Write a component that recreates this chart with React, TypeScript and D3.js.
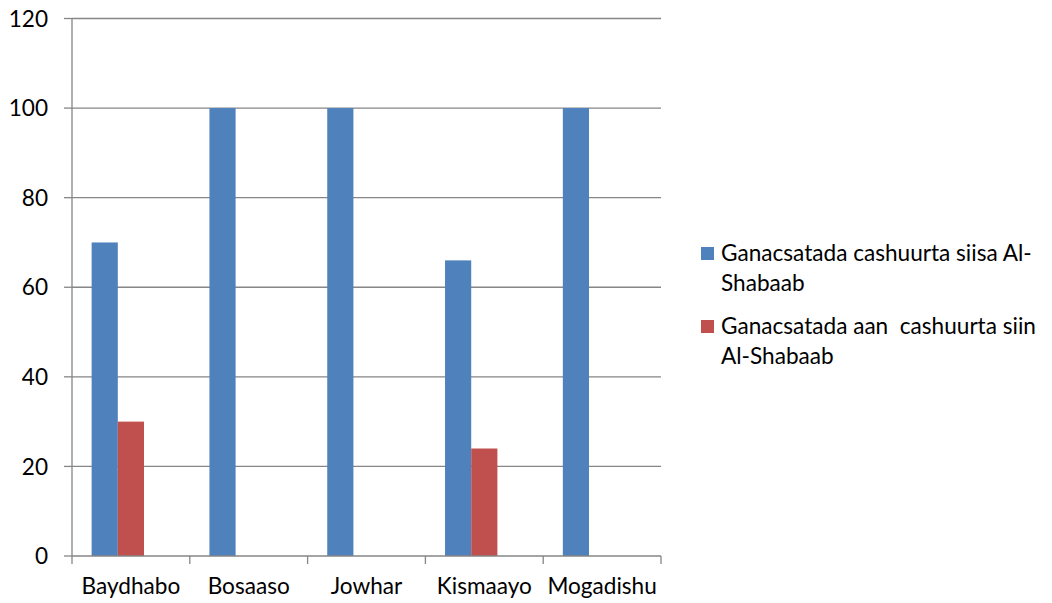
import React, { useEffect, useRef } from "react";
import * as d3 from "d3";

const categories = ["Baydhabo", "Bosaaso", "Jowhar", "Kismaayo", "Mogadishu"];
const seriesA = [70, 100, 100, 66, 100];
const seriesB = [30, null, null, 24, null];
const yTicks = [0, 20, 40, 60, 80, 100, 120];
const legendA = ["Ganacsatada cashuurta siisa Al-", "Shabaab"];
const legendB = ["Ganacsatada aan  cashuurta siin", "Al-Shabaab"];
const colorA = "#4F81BD";
const colorB = "#C0504D";

const W = 1052;
const H = 603;
const FONT = "Lato, 'Open Sans', sans-serif";
const FS = 22.6;

export default function App() {
  const ref = useRef<SVGSVGElement | null>(null);

  useEffect(() => {
    document.body.style.margin = "0";
    const svg = d3.select(ref.current);
    svg.selectAll("*").remove();

    const left = 72, right = 661, top = 18.5, bottom = 556;
    const x = d3.scaleBand<string>().domain(categories).range([left, right]).paddingInner(0).paddingOuter(0);
    const y = d3.scaleLinear().domain([0, 120]).range([bottom, top]);
    // Excel-like cluster: 3 slots (one unused), gap width 150%
    const slots = 3;
    const bw = x.bandwidth() / (slots + 1.5);
    const off = bw * 0.75;
    const grid = "#868686";

    // gridlines
    svg.append("g").selectAll("line").data(yTicks.filter((t) => t > 0)).join("line")
      .attr("x1", left).attr("x2", right)
      .attr("y1", (d) => y(d)).attr("y2", (d) => y(d))
      .attr("stroke", grid).attr("stroke-width", 1.3);

    // bars
    const g = svg.append("g");
    g.selectAll("rect.a").data(categories).join("rect").attr("class", "a")
      .attr("x", (d) => (x(d) as number) + off)
      .attr("width", bw)
      .attr("y", (d, i) => y(seriesA[i] as number))
      .attr("height", (d, i) => bottom - y(seriesA[i] as number))
      .attr("fill", colorA);
    g.selectAll("rect.b").data(categories.filter((_, i) => seriesB[i] != null)).join("rect").attr("class", "b")
      .attr("x", (d) => (x(d) as number) + off + bw)
      .attr("width", bw)
      .attr("y", (d) => y(seriesB[categories.indexOf(d)] as number))
      .attr("height", (d) => bottom - y(seriesB[categories.indexOf(d)] as number))
      .attr("fill", colorB);

    // y axis
    const ya = svg.append("g");
    ya.append("line").attr("x1", left).attr("x2", left).attr("y1", top).attr("y2", bottom)
      .attr("stroke", grid).attr("stroke-width", 1.3);
    ya.selectAll("line.t").data(yTicks).join("line").attr("class", "t")
      .attr("x1", left - 8).attr("x2", left).attr("y1", (d) => y(d)).attr("y2", (d) => y(d))
      .attr("stroke", grid).attr("stroke-width", 1.3);
    ya.selectAll("text").data(yTicks).join("text")
      .attr("x", 48).attr("y", (d) => y(d)).attr("dy", "0.36em")
      .attr("text-anchor", "end").attr("font-family", FONT).attr("font-size", FS).attr("fill", "#000")
      .text((d) => String(d));

    // x axis
    const xa = svg.append("g");
    xa.append("line").attr("x1", left).attr("x2", right).attr("y1", bottom).attr("y2", bottom)
      .attr("stroke", grid).attr("stroke-width", 1.3);
    const edges = categories.map((c) => x(c) as number).concat([right]);
    xa.selectAll("line.t").data(edges).join("line").attr("class", "t")
      .attr("x1", (d) => d).attr("x2", (d) => d).attr("y1", bottom).attr("y2", bottom + 8)
      .attr("stroke", grid).attr("stroke-width", 1.3);
    xa.selectAll("text").data(categories).join("text")
      .attr("x", (d) => (x(d) as number) + x.bandwidth() / 2).attr("y", 594)
      .attr("text-anchor", "middle").attr("font-family", FONT).attr("font-size", FS).attr("fill", "#000")
      .text((d) => d);

    // legend
    const lg = svg.append("g");
    const entries = [
      { lines: legendA, color: colorA, y0: 261 },
      { lines: legendB, color: colorB, y0: 334 },
    ];
    entries.forEach((e) => {
      lg.append("rect").attr("x", 701).attr("y", e.y0 - 14).attr("width", 13).attr("height", 13).attr("fill", e.color);
      e.lines.forEach((ln, i) => {
        lg.append("text").attr("x", 721).attr("y", e.y0 + i * 30)
          .attr("font-family", FONT).attr("font-size", FS).attr("fill", "#000")
          .style("white-space", "pre")
          .text(ln);
      });
    });
  }, []);

  return <svg ref={ref} width={W} height={H} style={{ display: "block", background: "#fff" }} />;
}
